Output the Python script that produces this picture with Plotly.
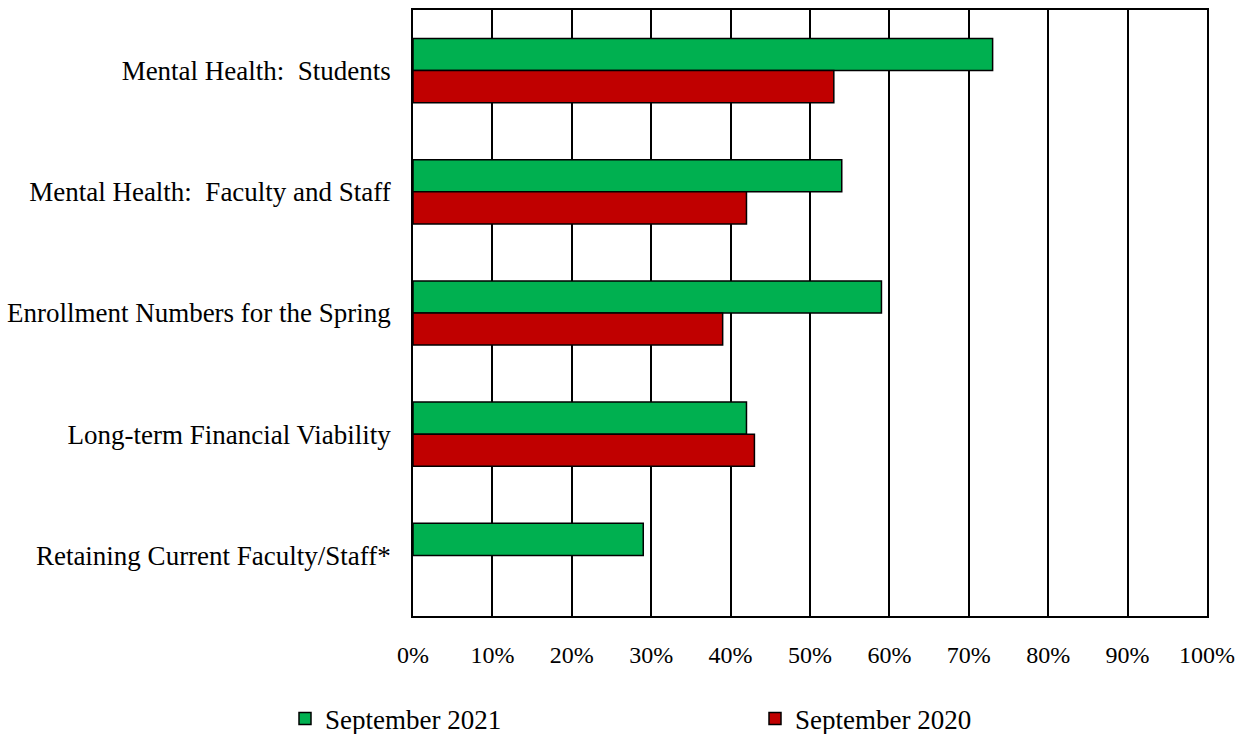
import plotly.graph_objects as go

# Survey concerns, share of respondents (%)
categories = [
    "Mental Health:  Students",
    "Mental Health:  Faculty and Staff",
    "Enrollment Numbers for the Spring",
    "Long-term Financial Viability",
    "Retaining Current Faculty/Staff*",
]
sep_2021 = [73, 54, 59, 42, 29]
sep_2020 = [53, 42, 39, 43, None]

x_ticks = list(range(0, 101, 10))
x_tick_labels = [f"{v}%" for v in x_ticks]

FONT = "Liberation Serif, Times New Roman, serif"
W, H = 1248, 734

fig = go.Figure()
fig.add_trace(go.Bar(
    name="September 2021", y=categories, x=sep_2021, orientation="h",
    marker=dict(color="#00B050", line=dict(color="black", width=1.5)),
    legend="legend", showlegend=True,
))
fig.add_trace(go.Bar(
    name="September 2020", y=categories, x=sep_2020, orientation="h",
    marker=dict(color="#C00000", line=dict(color="black", width=1.5)),
    legend="legend2", showlegend=True,
))


def legend_box(left_px):
    return dict(
        orientation="h",
        xref="container", x=left_px / W, xanchor="left",
        yref="container", y=(H - 719) / H, yanchor="middle",
        font=dict(size=27), bgcolor="rgba(0,0,0,0)",
    )


fig.update_layout(
    width=W, height=H,
    margin=dict(l=413, r=41, t=10, b=118),
    paper_bgcolor="white", plot_bgcolor="white",
    font=dict(family=FONT, size=27, color="black"),
    barmode="group", bargap=0.47, bargroupgap=0,
    showlegend=True,
    legend=legend_box(285),
    legend2=legend_box(755),
)
fig.update_xaxes(
    range=[0, 100], tickvals=x_ticks, ticktext=x_tick_labels,
    tickfont=dict(size=24), ticklabelstandoff=16,
    showgrid=True, gridcolor="black", gridwidth=1.5,
    showline=True, linecolor="black", linewidth=1.5, mirror=True,
    zeroline=False, fixedrange=True, automargin=False,
)
fig.update_yaxes(
    autorange="reversed", tickfont=dict(size=27), ticklabelstandoff=15,
    showgrid=False,
    showline=True, linecolor="black", linewidth=1.5, mirror=True,
    fixedrange=True, automargin=False,
)

fig.write_html("out.html")
